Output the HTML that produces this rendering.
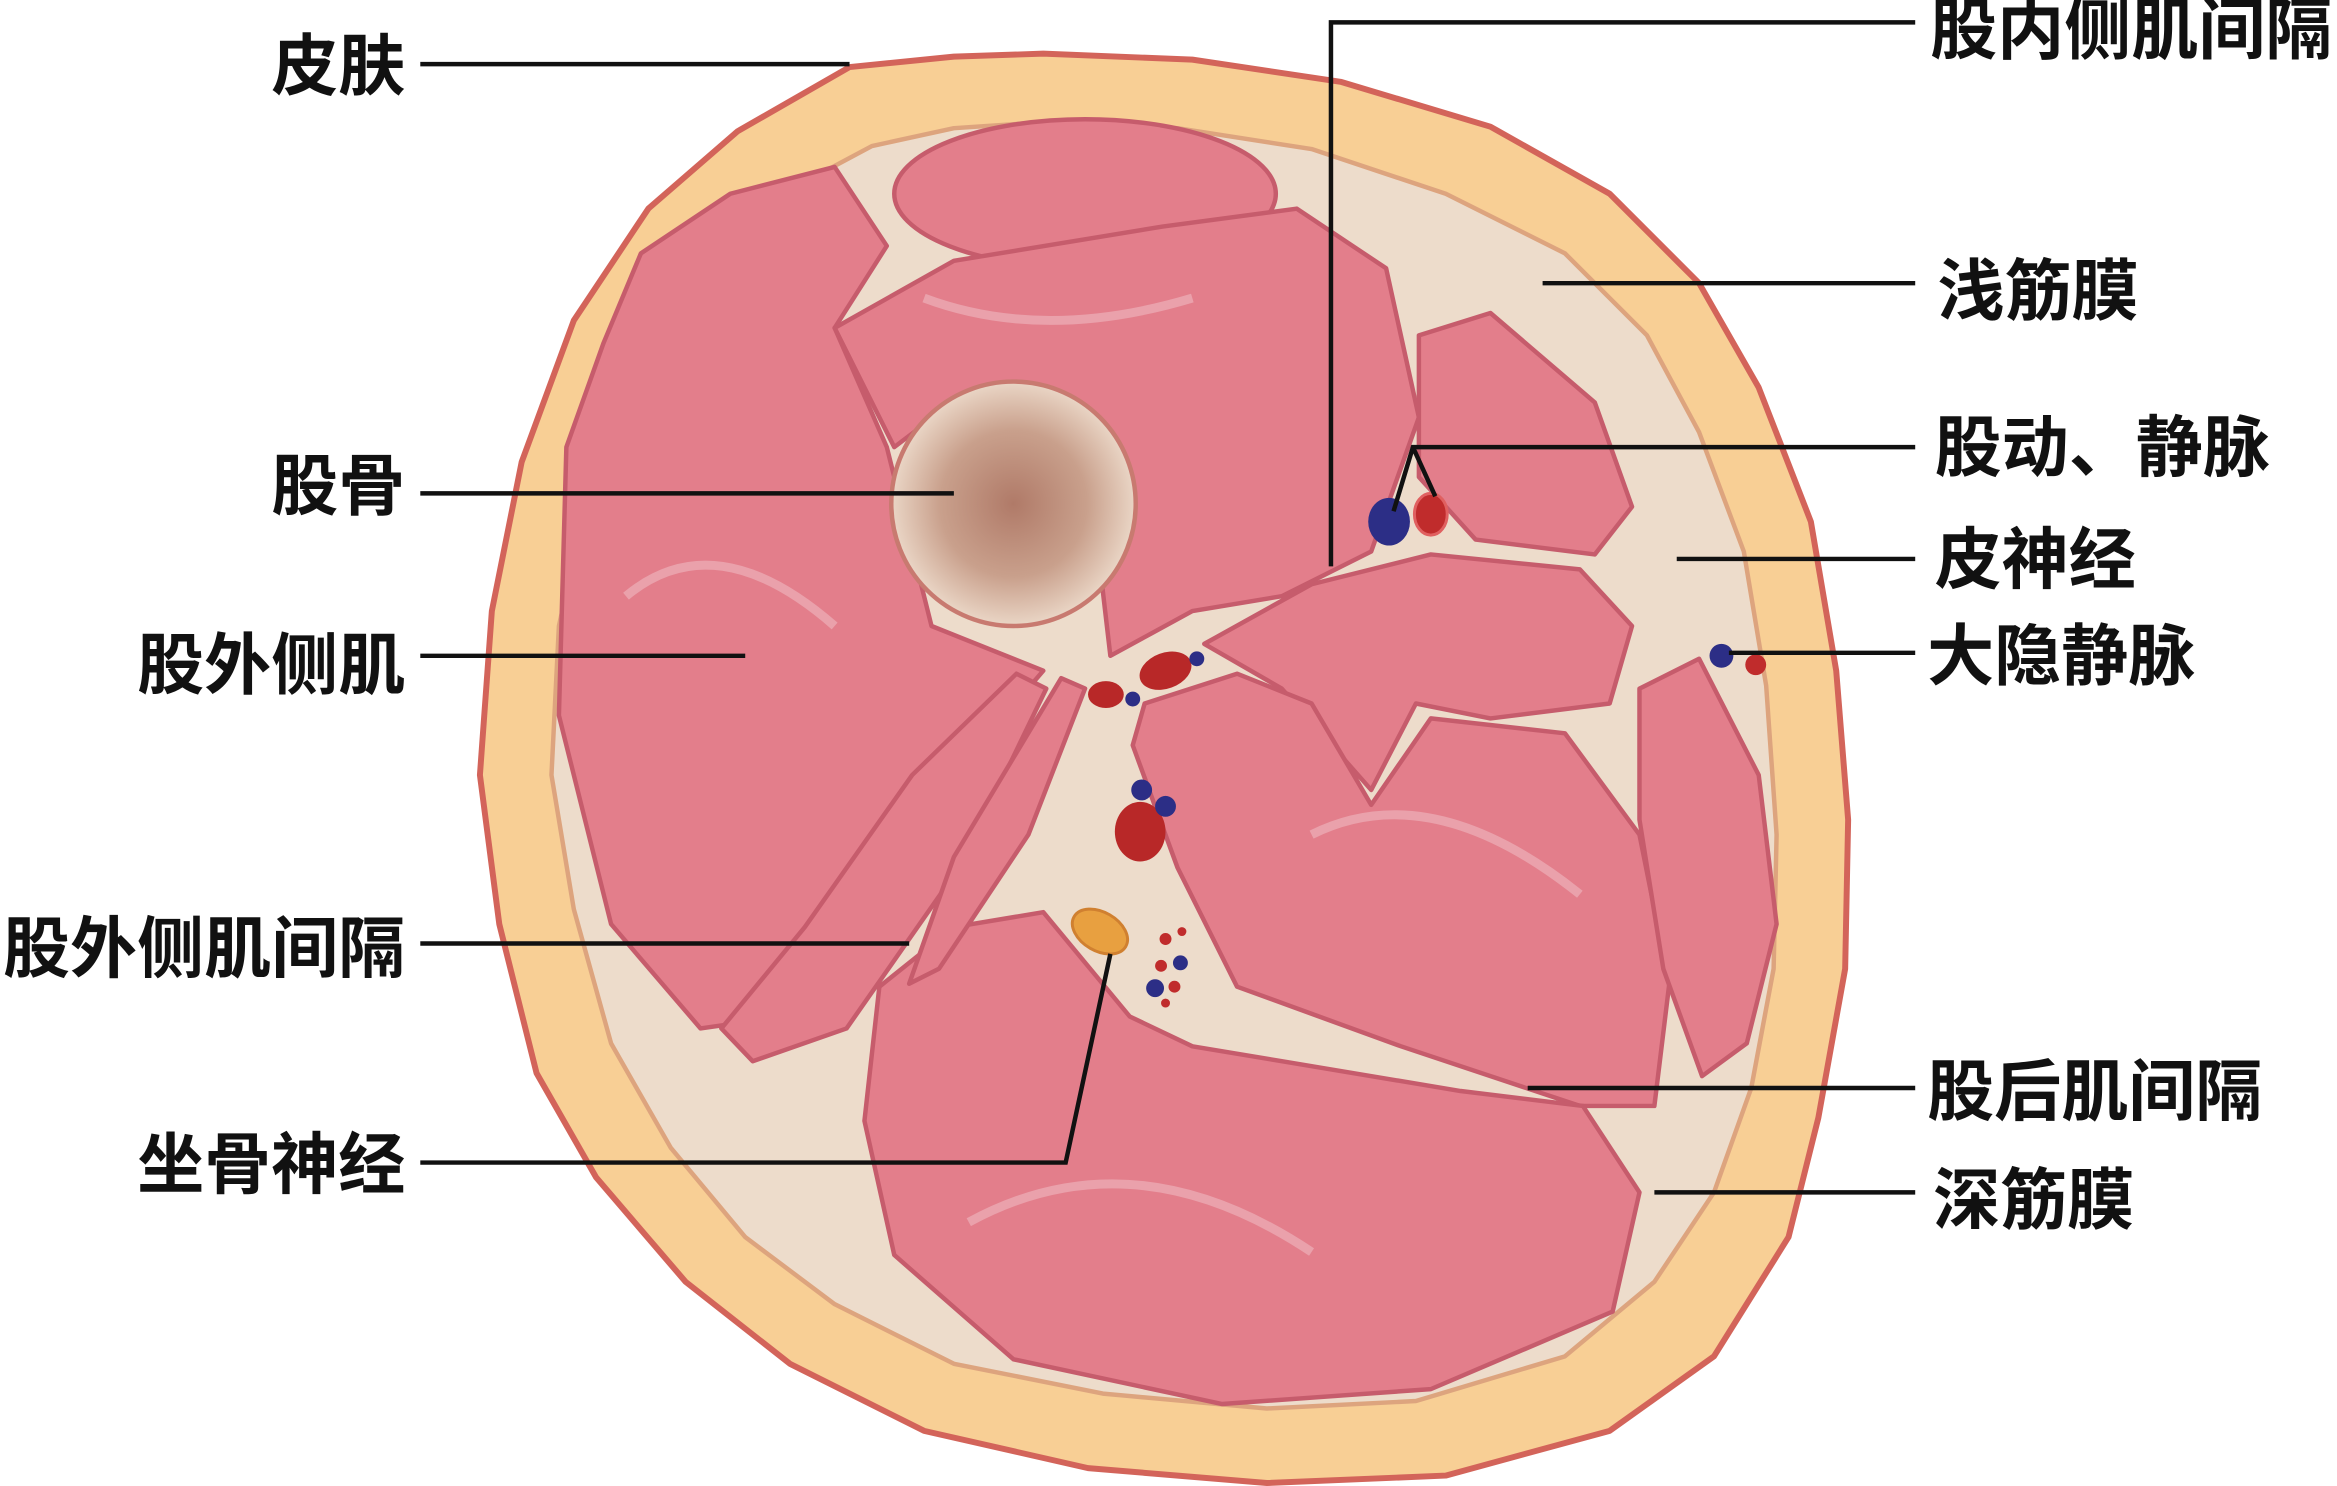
<!DOCTYPE html>
<html><head><meta charset="utf-8"><style>
html,body{margin:0;padding:0;background:#fff;}
svg{display:block;}
text{font-family:"Liberation Sans","Noto Sans CJK SC",sans-serif;font-size:45px;fill:#111;font-weight:700;}
</style></head><body>
<svg width="2337" height="1486" viewBox="0 0 1568 997" preserveAspectRatio="none" xmlns="http://www.w3.org/2000/svg">
<defs>
<radialGradient id="bone" cx="0.5" cy="0.5" r="0.5">
<stop offset="0" stop-color="#b07a68"/><stop offset="0.6" stop-color="#c9a08c"/><stop offset="1" stop-color="#ead6c6"/>
</radialGradient>
</defs>
<polygon fill="#f8cf95" stroke="#d3645a" stroke-width="4" stroke-linejoin="round" points="700,36 800,40 900,55 1000,85 1080,130 1140,190 1180,260 1215,350 1232,450 1240,550 1238,650 1220,750 1200,830 1150,910 1080,960 970,990 850,995 730,985 620,960 530,915 460,860 400,790 360,720 335,620 322,520 330,410 350,310 385,215 435,140 495,88 570,45 640,38"/>
<polygon fill="#eddccb" stroke="#dda47e" stroke-width="3" stroke-linejoin="round" points="700,82 790,86 880,100 970,130 1050,170 1105,225 1140,290 1170,370 1185,460 1192,560 1190,650 1175,730 1150,800 1110,860 1050,910 950,940 850,945 740,935 640,915 560,875 500,830 450,770 410,700 385,610 370,520 375,420 395,330 428,245 470,180 525,130 585,98 640,86"/>
<g fill="#e37e8b" stroke="#c65c6c" stroke-width="3" stroke-linejoin="round">
<ellipse cx="728" cy="130" rx="128" ry="50"/>
<polygon points="380,300 405,230 430,170 490,130 560,112 595,165 560,220 595,300 625,420 700,450 640,520 600,620 540,680 470,690 410,620 375,480"/>
<polygon points="560,220 640,175 780,152 870,140 930,180 952,280 920,370 860,400 800,410 745,440 738,380 760,330 730,280 650,262 600,300"/>
<polygon points="952,225 1000,210 1070,270 1095,340 1070,372 990,362 952,320"/>
<polygon points="808,432 880,392 960,372 1060,382 1095,420 1080,472 1000,482 950,472 920,530 860,462"/>
<polygon points="768,472 830,452 880,472 920,540 960,482 1050,492 1100,560 1120,660 1110,742 1060,742 940,702 830,662 790,582 760,500"/>
<polygon points="1100,462 1140,442 1180,520 1192,620 1172,700 1142,722 1116,650 1100,550"/>
<polygon points="590,662 640,622 700,612 758,682 800,702 860,712 980,732 1062,742 1100,800 1082,880 960,932 820,942 680,912 600,842 580,752"/>
<polygon points="612,520 682,452 702,462 645,580 568,690 505,712 484,690 540,622"/>
<polygon points="712,455 728,462 690,560 630,650 610,660 640,575"/>
</g>
<g fill="none" stroke="#f2c4cc" stroke-width="6" opacity="0.5">
<path d="M420,400 Q480,350 560,420"/><path d="M650,820 Q760,760 880,840"/><path d="M880,560 Q960,520 1060,600"/><path d="M620,200 Q700,230 800,200"/>
</g>
<circle cx="680" cy="338" r="82" fill="url(#bone)" stroke="#c87a70" stroke-width="3"/>
<ellipse cx="932" cy="350" rx="14" ry="16" fill="#2c2e86"/>
<ellipse cx="960" cy="345" rx="11" ry="14" fill="#c02c2c" stroke="#e06060" stroke-width="2"/>
<circle cx="1155" cy="440" r="8" fill="#2c2e86"/>
<circle cx="1178" cy="446" r="7" fill="#c02c2c"/>
<ellipse cx="782" cy="450" rx="18" ry="12" fill="#b82828" transform="rotate(-20 782 450)"/>
<ellipse cx="742" cy="466" rx="12" ry="9" fill="#b82828"/>
<circle cx="760" cy="469" r="5" fill="#2c2e86"/>
<circle cx="803" cy="442" r="5" fill="#2c2e86"/>
<ellipse cx="765" cy="558" rx="17" ry="20" fill="#b82828"/>
<circle cx="766" cy="530" r="7" fill="#2c2e86"/>
<circle cx="782" cy="541" r="7" fill="#2c2e86"/>
<ellipse cx="738" cy="625" rx="20" ry="13" fill="#e8a040" stroke="#d08030" stroke-width="2" transform="rotate(30 738 625)"/>
<g fill="#c02c2c"><circle cx="782" cy="630" r="4"/><circle cx="793" cy="625" r="3"/><circle cx="779" cy="648" r="4"/><circle cx="788" cy="662" r="4"/><circle cx="782" cy="673" r="3"/></g>
<g fill="#2c2e86"><circle cx="792" cy="646" r="5"/><circle cx="775" cy="663" r="6"/></g>
<g stroke="#111" stroke-width="3" fill="none">
<path d="M282,43 H570"/><path d="M282,331 H640"/><path d="M282,440 H500"/><path d="M282,633 H610"/><path d="M282,780 H715 L745,640"/>
<path d="M1285,15 H893 V380"/><path d="M1035,190 H1285"/><path d="M1285,300 H948 L935,343 M948,300 L963,333"/>
<path d="M1125,375 H1285"/><path d="M1160,438 H1285"/><path d="M1025,730 H1285"/><path d="M1110,800 H1285"/>
</g>
<text x="272" y="60" text-anchor="end">皮肤</text>
<text x="272" y="342" text-anchor="end">股骨</text>
<text x="272" y="462" text-anchor="end">股外侧肌</text>
<text x="272" y="652" text-anchor="end">股外侧肌间隔</text>
<text x="272" y="797" text-anchor="end">坐骨神经</text>
<text x="1295" y="36">股内侧肌间隔</text>
<text x="1300" y="211">浅筋膜</text>
<text x="1298" y="316">股动、静脉</text>
<text x="1298" y="391">皮神经</text>
<text x="1293" y="456">大隐静脉</text>
<text x="1293" y="748">股后肌间隔</text>
<text x="1297" y="821">深筋膜</text>
</svg>
</body></html>
